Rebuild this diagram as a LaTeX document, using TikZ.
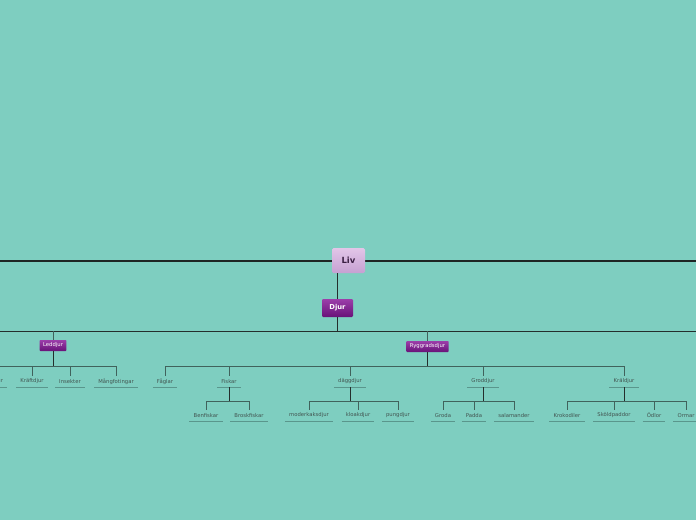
\documentclass[tikz,border=0pt]{standalone}
\usepackage{fontspec}
\setmainfont{DejaVu Sans}
\definecolor{bgcol}{RGB}{126,206,192}
\definecolor{mainln}{RGB}{30,38,36}
\definecolor{stemln}{RGB}{36,46,44}
\definecolor{branchln}{RGB}{64,98,92}
\definecolor{ulinecol}{RGB}{90,150,140}
\definecolor{leaftext}{RGB}{66,84,80}
\definecolor{livtop}{RGB}{226,198,232}
\definecolor{livbot}{RGB}{198,160,210}
\definecolor{livtext}{RGB}{58,30,66}
\definecolor{purtop}{RGB}{156,62,170}
\definecolor{purbot}{RGB}{104,18,120}

\begin{document}
\begin{tikzpicture}[x=1pt,y=-1pt,
  mainline/.style={line width=2.6pt,mainln},
  stem/.style={line width=1pt,stemln},
  branch/.style={line width=0.9pt,branchln},
  uline/.style={line width=1.2pt,ulinecol},
  livbox/.style={rounded corners=1.5pt,top color=livtop,bottom color=livbot,
    minimum width=33pt,minimum height=25pt,inner sep=0pt,
    font=\fontsize{8.5}{9}\selectfont\bfseries,text=livtext},
  djurbox/.style={rounded corners=1.2pt,top color=purtop,bottom color=purbot,
    minimum width=31pt,minimum height=18pt,inner sep=0pt,
    font=\fontsize{6.8}{7}\selectfont\bfseries,text=white},
  catbox/.style={rounded corners=0.8pt,top color=purtop,bottom color=purbot,
    minimum height=11pt,inner xsep=3.5pt,inner ysep=0pt,
    font=\fontsize{5.3}{6}\selectfont,text=white},
  leaf/.style={font=\fontsize{5.3}{6}\selectfont,text=leaftext,
    inner xsep=4pt,inner ysep=0pt,minimum height=11pt,
    append after command={(\tikzlastnode.south west) edge[uline] (\tikzlastnode.south east)}}]
\fill[bgcol] (0,0) rectangle (696,520);
\useasboundingbox (0,0) rectangle (696,520);
% ---------- Liv och Djur ----------
\coordinate (lineW) at (0,261);
\coordinate (lineE) at (696,261);
\draw[mainline] (lineW) -- (lineE);
\node[livbox] (liv) at (348.5,260.5) {Liv};
\node[djurbox] (djur) at (337.5,308) {Djur};
\draw[stem] (djur.north) -- (djur.north |- liv.south);
\coordinate (barW) at (0,331);
\coordinate (barE) at (696,331);
\draw[stem] (barW) -- (barE);
\draw[stem] (djur.south) -- (djur.south |- barW);
% ---------- Leddjur ----------
\node[catbox] (ledd) at (53,345.5) {Leddjur};
\draw[branch] (ledd.north) -- (ledd.north |- barW);
\coordinate (ledbar) at (0,366);
\foreach \n/\x/\t in {spin/-12/Spindeldjur,kraft/32/Kräftdjur,ins/70/Insekter,mang/116/Mångfotingar}{
  \node[leaf] (\n) at (\x,381.5) {\t};
  \draw[branch] (\n.north) -- (\n.north |- ledbar);
}
\draw[branch] (spin.north |- ledbar) -- (mang.north |- ledbar);
\draw[stem] (ledd.south) -- (ledd.south |- ledbar);
% ---------- Ryggradsdjur ----------
\node[catbox] (rygg) at (427.5,346.5) {Ryggradsdjur};
\draw[branch] (rygg.north) -- (rygg.north |- barW);
\coordinate (rygbar) at (0,366);
\foreach \n/\x/\t in {fagl/165/Fåglar,fisk/229/Fiskar,dagg/350/däggdjur,grod/483/Groddjur,kral/624/Kräldjur}{
  \node[leaf] (\n) at (\x,381.5) {\t};
  \draw[branch] (\n.north) -- (\n.north |- rygbar);
}
\draw[branch] (fagl.north |- rygbar) -- (kral.north |- rygbar);
\draw[stem] (rygg.south) -- (rygg.south |- rygbar);
% ---------- tredje nivån ----------
\coordinate (lowbar) at (0,401);
\foreach \p/\list in {fisk/{benf/206/Benfiskar,brosk/249/Broskfiskar},
    dagg/{moder/309/moderkaksdjur,kloak/358/kloakdjur,pung/398/pungdjur},
    grod/{groda/443/Groda,padda/474/Padda,sala/514/salamander},
    kral/{krok/567/Krokodiler,skold/614/Sköldpaddor,odla/654/Ödlor,orm/686/Ormar}}{
  \foreach \n/\x/\t in \list{
    \node[leaf] (\n) at (\x,415.5) {\t};
    \draw[branch] (\n.north) -- (\n.north |- lowbar);
  }
}
\draw[branch] (benf.north |- lowbar) -- (brosk.north |- lowbar);
\draw[branch] (moder.north |- lowbar) -- (pung.north |- lowbar);
\draw[branch] (groda.north |- lowbar) -- (sala.north |- lowbar);
\draw[branch] (krok.north |- lowbar) -- (orm.north |- lowbar);
\foreach \p in {fisk,dagg,grod,kral}
  \draw[stem] (\p.south) -- (\p.south |- lowbar);
\end{tikzpicture}
\end{document}
